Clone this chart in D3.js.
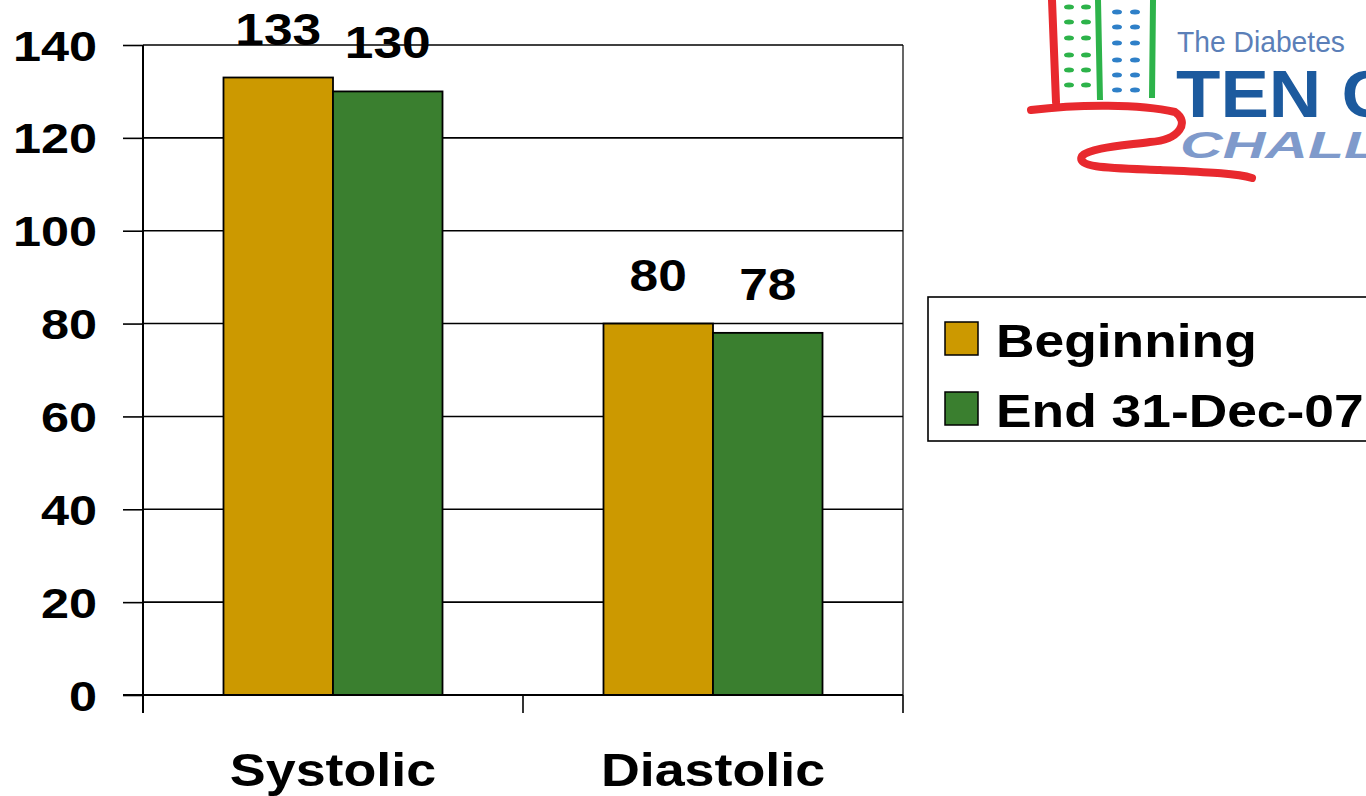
<!DOCTYPE html>
<html><head><meta charset="utf-8">
<script src="https://cdn.jsdelivr.net/npm/d3@7"></script>
<style>
html,body{margin:0;padding:0;background:#fff;overflow:hidden}
svg{display:block;font-family:"Liberation Sans",Arial,sans-serif}
</style></head>
<body>
<svg id="c" width="1366" height="796"></svg>
<script>
const categories = ["Systolic", "Diastolic"];
const seriesNames = ["Beginning", "End 31-Dec-07"];
const beginningValues = [133, 80];
const endValues = [130, 78];
const yTicks = [0, 20, 40, 60, 80, 100, 120, 140];
const colors = ["#CC9900", "#3A7F2F"];

(function () {
const svg = d3.select("#c");
const pL = 143, pR = 903, pT = 45, pB = 695;
const SX = 1.17; // horizontal stretch of the reference's lettering

const y = d3.scaleLinear().domain([0, 140]).range([pB, pT]);
const x0 = d3.scaleBand().domain(categories).range([pL, pR]).padding(0);
const x1 = d3.scaleBand().domain(seriesNames).range([0, x0.bandwidth()]).paddingInner(0).paddingOuter(0.735);

// gridlines
svg.append("g").selectAll("line").data(yTicks).join("line")
  .attr("x1", pL).attr("x2", pR)
  .attr("y1", d => y(d)).attr("y2", d => y(d))
  .attr("stroke", "#000").attr("stroke-width", 1.6);

// plot border right
svg.append("line").attr("x1", pR).attr("x2", pR).attr("y1", pT).attr("y2", pB)
  .attr("stroke", "#000").attr("stroke-width", 1.2);

// bars
const data = categories.map((c, i) => ({cat: c, vals: [beginningValues[i], endValues[i]]}));
const grp = svg.append("g").selectAll("g").data(data).join("g")
  .attr("transform", d => `translate(${x0(d.cat)},0)`);
grp.selectAll("rect").data(d => d.vals.map((v, j) => ({v, s: seriesNames[j], j}))).join("rect")
  .attr("x", d => x1(d.s)).attr("width", x1.bandwidth())
  .attr("y", d => y(d.v)).attr("height", d => y(0) - y(d.v))
  .attr("fill", d => colors[d.j]).attr("stroke", "#000").attr("stroke-width", 1.8);
grp.selectAll("text").data(d => d.vals.map((v, j) => ({v, s: seriesNames[j], j}))).join("text")
  .attr("transform", d => `translate(${x1(d.s) + x1.bandwidth() / 2},${y(d.v) - 33}) scale(${SX},1)`)
  .attr("text-anchor", "middle").attr("font-weight", "bold").attr("font-size", 44)
  .text(d => d.v);

// left axis
const ya = svg.append("g").attr("transform", `translate(${pL},0)`)
  .call(d3.axisLeft(y).tickValues(yTicks).tickSize(20).tickPadding(26).tickSizeOuter(0));
ya.select(".domain").attr("stroke", "#000").attr("stroke-width", 2).attr("d", `M0,${pT}V${pB + 18}`);
ya.selectAll(".tick line").attr("stroke", "#000").attr("stroke-width", 1.6);
ya.selectAll(".tick text").attr("font-size", 42).attr("font-weight", "bold")
  .attr("font-family", "Liberation Sans, Arial, sans-serif").attr("fill", "#000")
  .attr("x", 0).attr("dy", "0.36em").attr("transform", `translate(-46,0) scale(1.2,1)`);

// bottom axis
const edges = [pL].concat(categories.map(c => x0(c) + x0.bandwidth()));
svg.append("line").attr("x1", pL - 20).attr("x2", pR).attr("y1", pB).attr("y2", pB)
  .attr("stroke", "#000").attr("stroke-width", 2);
svg.append("g").selectAll("line").data(edges).join("line")
  .attr("x1", d => d).attr("x2", d => d).attr("y1", pB).attr("y2", pB + 18)
  .attr("stroke", "#000").attr("stroke-width", 1.6);
svg.append("g").selectAll("text").data(categories).join("text")
  .attr("transform", d => `translate(${x0(d) + x0.bandwidth() / 2},786) scale(${SX},1)`)
  .attr("text-anchor", "middle")
  .attr("font-size", 46).attr("font-weight", "bold").text(d => d);

// legend
const lg = svg.append("g");
lg.append("rect").attr("x", 928).attr("y", 297).attr("width", 460).attr("height", 144)
  .attr("fill", "#fff").attr("stroke", "#000").attr("stroke-width", 1.6);
seriesNames.forEach((s, i) => {
  lg.append("rect").attr("x", 945).attr("y", 322 + i * 70).attr("width", 33).attr("height", 33)
    .attr("fill", colors[i]).attr("stroke", "#000").attr("stroke-width", 1.5);
  lg.append("text").attr("transform", `translate(996,${357 + i * 70}) scale(1.16,1)`)
    .attr("font-size", 46).attr("font-weight", "bold").text(s);
});

// logo
const logo = svg.append("g");
const red = "#E8292E", grn = "#2DB34A", blu = "#2F80C8";
logo.append("path").attr("d", "M1052,0 L1056,102 M1031,110 C1080,104 1140,104 1175,112 C1190,122 1180,140 1150,142 C1120,146 1090,148 1082,156 C1076,168 1110,168 1160,170 C1200,172 1235,173 1252,178")
  .attr("fill", "none").attr("stroke", red).attr("stroke-width", 8).attr("stroke-linecap", "round").attr("stroke-linejoin", "round");
logo.append("path").attr("d", "M1098,0 L1100,100 M1153,0 L1152,98")
  .attr("fill", "none").attr("stroke", grn).attr("stroke-width", 6);
const rows = [7, 22, 38, 55, 70, 85];
rows.forEach(r => {
  [1069, 1086].forEach(cx => logo.append("ellipse").attr("cx", cx).attr("cy", r).attr("rx", 5).attr("ry", 2.5).attr("fill", grn));
  [1117, 1135].forEach(cx => logo.append("ellipse").attr("cx", cx).attr("cy", r + 5).attr("rx", 5).attr("ry", 2.5).attr("fill", blu));
});
logo.append("text").attr("x", 1177).attr("y", 52).attr("font-size", 30).attr("fill", "#5B7FB8")
  .attr("textLength", 168).attr("lengthAdjust", "spacingAndGlyphs").text("The Diabetes");
logo.append("text").attr("x", 1176).attr("y", 117).attr("font-size", 66).attr("font-weight", "bold")
  .attr("fill", "#1C5A9E").attr("textLength", 218).attr("lengthAdjust", "spacingAndGlyphs").text("TEN C");
logo.append("text").attr("x", 1180).attr("y", 158).attr("font-size", 36).attr("font-weight", "bold")
  .attr("font-style", "italic").attr("fill", "#7F9ACB").attr("textLength", 200).attr("lengthAdjust", "spacingAndGlyphs").text("CHALL");
})();
</script>
</body></html>
